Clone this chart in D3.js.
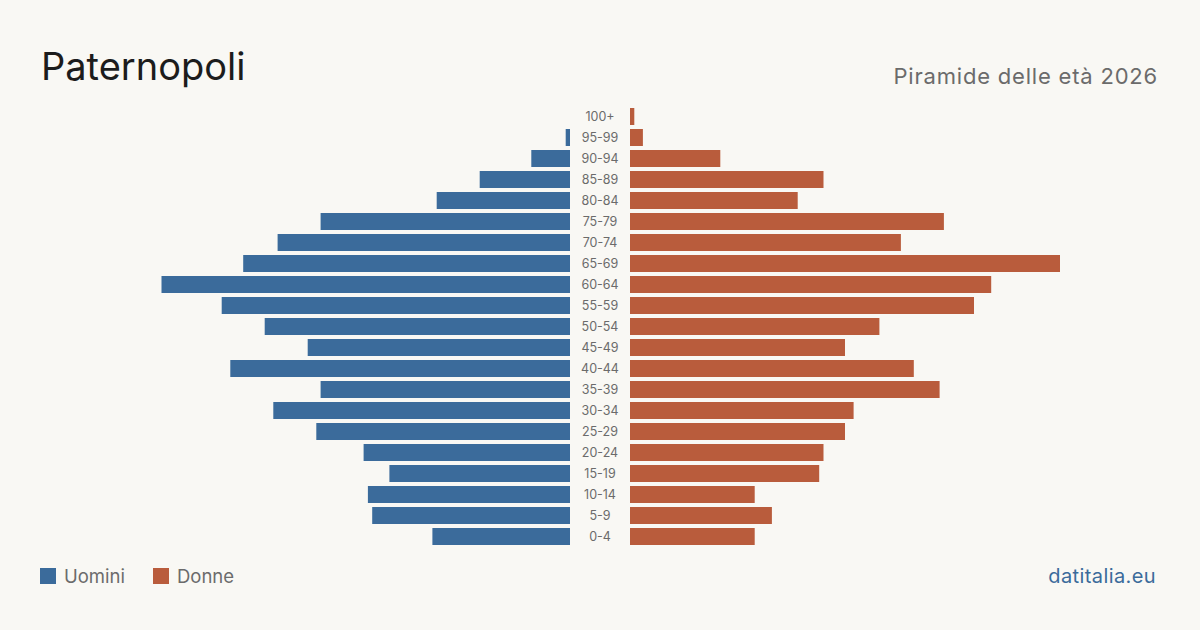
<!DOCTYPE html>
<html>
<head>
<meta charset="utf-8">
<script src="https://cdn.jsdelivr.net/npm/d3@7"></script>
<style>
  html, body { margin: 0; padding: 0; background: #f9f8f4; }
  svg { display: block; }
</style>
</head>
<body>
<svg id="chart"></svg>
<script>
// fasce d'età, dall'alto verso il basso
const ages = ['100+','95-99','90-94','85-89','80-84','75-79','70-74','65-69','60-64','55-59',
  '50-54','45-49','40-44','35-39','30-34','25-29','20-24','15-19','10-14','5-9','0-4'];
const males   = [0, 1, 9, 21, 31, 58, 68, 76, 95, 81, 71, 61, 79, 58, 69, 59, 48, 42, 47, 46, 32];
const females = [1, 3, 21, 45, 39, 73, 63, 100, 84, 80, 58, 50, 66, 72, 52, 50, 45, 44, 29, 33, 29];
const legendItems = ['Uomini', 'Donne'];

const W = 1200, H = 630;
const C_M = '#3b6b9b', C_F = '#b95c3c';
const FONT = 'Inter, "Liberation Sans", sans-serif';

const svg = d3.select('#chart').attr('width', W).attr('height', H);
svg.append('rect').attr('width', W).attr('height', H).attr('fill', '#f9f8f4');

const centre = 600, gap = 30;
const maxVal = d3.max([...males, ...females]);
const x = d3.scaleLinear().domain([0, maxVal]).range([0, 430]);
const y = d3.scaleBand().domain(ages).range([108, 545])
  .paddingInner(4 / 21).paddingOuter(0);

// barre uomini
svg.append('g').selectAll('rect').data(ages).join('rect')
  .attr('x', (d, i) => centre - gap - x(males[i]))
  .attr('y', d => y(d))
  .attr('width', (d, i) => x(males[i]))
  .attr('height', y.bandwidth())
  .attr('fill', C_M);

// barre donne
svg.append('g').selectAll('rect').data(ages).join('rect')
  .attr('x', centre + gap)
  .attr('y', d => y(d))
  .attr('width', (d, i) => x(females[i]))
  .attr('height', y.bandwidth())
  .attr('fill', C_F);

// etichette età
svg.append('g').selectAll('text').data(ages).join('text')
  .attr('x', centre)
  .attr('y', d => y(d) + y.bandwidth() / 2)
  .attr('dy', '0.36em')
  .attr('text-anchor', 'middle')
  .style('font-family', FONT).style('font-size', '12.5px').attr('fill', '#6b6b6b')
  .text(d => d);

// titoli
svg.append('text').attr('x', 41).attr('y', 80)
  .style('font-family', FONT).style('font-size', '38px').attr('fill', '#1c1c1c')
  .text('Paternopoli');
svg.append('text').attr('x', 1158).attr('y', 84).attr('text-anchor', 'end')
  .style('font-family', FONT).style('font-size', '22px').style('letter-spacing', '0.8px')
  .attr('fill', '#6b6b6b')
  .text('Piramide delle età 2026');

// legenda
const leg = svg.append('g');
const legX = [40, 153];
legendItems.forEach((t, i) => {
  leg.append('rect').attr('x', legX[i]).attr('y', 568).attr('width', 16).attr('height', 16)
    .attr('fill', i === 0 ? C_M : C_F);
  leg.append('text').attr('x', legX[i] + 24).attr('y', 583)
    .style('font-family', FONT).style('font-size', '18.5px').attr('fill', '#6b6b6b')
    .text(t);
});

svg.append('text').attr('x', 1156).attr('y', 583).attr('text-anchor', 'end')
  .style('font-family', FONT).style('font-size', '20px').style('letter-spacing', '0.4px')
  .attr('fill', '#3b6b9b')
  .text('datitalia.eu');
</script>
</body>
</html>
